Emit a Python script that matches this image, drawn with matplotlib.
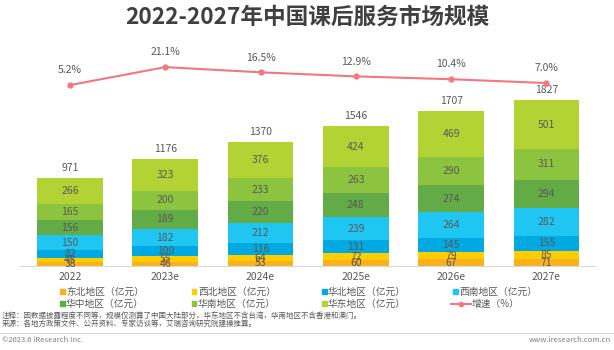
import matplotlib
matplotlib.use("Agg")
import matplotlib.pyplot as plt
from matplotlib.patches import Rectangle
from matplotlib.lines import Line2D
import numpy as np

plt.rcParams['font.family'] = ['Noto Sans CJK SC', 'DejaVu Sans']

years = ["2022", "2023e", "2024e", "2025e", "2026e", "2027e"]
regions = ["东北地区（亿元）", "西北地区（亿元）", "华北地区（亿元）", "西南地区（亿元）",
           "华中地区（亿元）", "华南地区（亿元）", "华东地区（亿元）"]
dongbei = [38, 46, 53, 60, 67, 71]
xibei = [45, 55, 64, 72, 79, 85]
huabei = [82, 100, 116, 131, 145, 155]
xinan = [150, 182, 212, 239, 264, 282]
huazhong = [156, 189, 220, 248, 274, 294]
huanan = [165, 200, 233, 263, 290, 311]
huadong = [266, 323, 376, 424, 469, 501]
totals = [971, 1176, 1370, 1546, 1707, 1827]
growth = [5.2, 21.1, 16.5, 12.9, 10.4, 7.0]
growth_label = "增速（%）"

series = [dongbei, xibei, huabei, xinan, huazhong, huanan, huadong]
colors = ["#F9B11E", "#FFCD00", "#00A9E2", "#20C6F2", "#63AB46", "#8DC43F", "#B3D234"]
line_color = "#F2777E"
text_color = "#595959"

W, H = 614, 350
fig = plt.figure(figsize=(W / 100, H / 100), dpi=100)

def fx(px):
    return px / W

def fy(py):
    return 1 - py / H

ax_left, ax_right, ax_top, ax_bottom = 20, 595, 40, 266
ax = fig.add_axes([fx(ax_left), fy(ax_bottom), fx(ax_right - ax_left), (ax_bottom - ax_top) / H])
x = np.arange(len(years))
ax.set_xlim(-0.525, 5.51)
ax.set_ylim(0, 2318)
bottom = np.zeros(len(years))
for vals, c in zip(series, colors):
    ax.bar(x, vals, 0.69, bottom=bottom, color=c, zorder=2)
    for xi, b, v in zip(x, bottom, vals):
        ax.text(xi, b + v / 2, str(v), ha="center", va="center", fontsize=7.5,
                color=text_color, zorder=3)
    bottom += np.array(vals)
for xi, b, t in zip(x, bottom, totals):
    ax.text(xi, b + 50, str(t), ha="center", va="bottom", fontsize=7.5, color=text_color)

for s in ["top", "right", "left"]:
    ax.spines[s].set_visible(False)
ax.spines["bottom"].set_color("#D9D9D9")
ax.set_yticks([])
ax.set_xticks(x)
ax.set_xticklabels(years, fontsize=7.5, color=text_color)
ax.tick_params(axis="x", length=0, pad=4)

ax2 = ax.twinx()
ax2.set_ylim(-154.9, 45.1)
ax2.plot(x, growth, color=line_color, lw=1.5, marker="o", ms=3.5, zorder=4)
for xi, g in zip(x, growth):
    ax2.annotate(f"{g:.1f}%", (xi, g), xytext=(0, 7), textcoords="offset points",
                 ha="center", va="bottom", fontsize=7.5, color=text_color)
ax2.axis("off")

fig.text(0.5, fy(17), "2022-2027年中国课后服务市场规模", ha="center", va="center",
         fontsize=16.3, fontweight="bold", color="#404040")

# legend
col_x = [60, 192, 322, 453]
row_y = [291.5, 303.5]
for i, (lab, c) in enumerate(zip(regions, colors)):
    r, cidx = divmod(i, 4)
    px, py = col_x[cidx], row_y[r]
    fig.add_artist(Rectangle((fx(px), fy(py + 2)), 4.5 / W, 4.5 / H, color=c,
                             transform=fig.transFigure))
    fig.text(fx(px + 6), fy(py), lab, ha="left", va="center", fontsize=7, color=text_color)
px, py = col_x[3], row_y[1]
fig.add_artist(Line2D([fx(px - 2.5), fx(px + 17.5)], [fy(py), fy(py)], color=line_color, lw=1.5,
                      transform=fig.transFigure))
fig.add_artist(Line2D([fx(px + 7.5)], [fy(py)], color=line_color, marker="o", ms=3,
                      transform=fig.transFigure))
fig.text(fx(px + 19), fy(py), growth_label, ha="left", va="center", fontsize=7, color=text_color)

fig.text(fx(2), fy(316), "注释：因数据披露程度不同等，规模仅测算了中国大陆部分，华东地区不含台湾，华南地区不含香港和澳门。",
         ha="left", va="center", fontsize=5.4, color=text_color)
fig.text(fx(2), fy(323.5), "来源：各地方政策文件、公开资料、专家访谈等，艾瑞咨询研究院建模推算。",
         ha="left", va="center", fontsize=5.4, color=text_color)
fig.add_artist(Line2D([0, 1], [fy(332.5), fy(332.5)], color="#D9D9D9", lw=0.8,
                      transform=fig.transFigure))
fig.text(fx(2), fy(340), "©2023.6 iResearch Inc.", ha="left", va="center", fontsize=5.5, color="#7F7F7F")
fig.text(fx(611), fy(340), "www.iresearch.com.cn", ha="right", va="center", fontsize=5.5, color="#7F7F7F")

fig.savefig("out.png", dpi=100)
